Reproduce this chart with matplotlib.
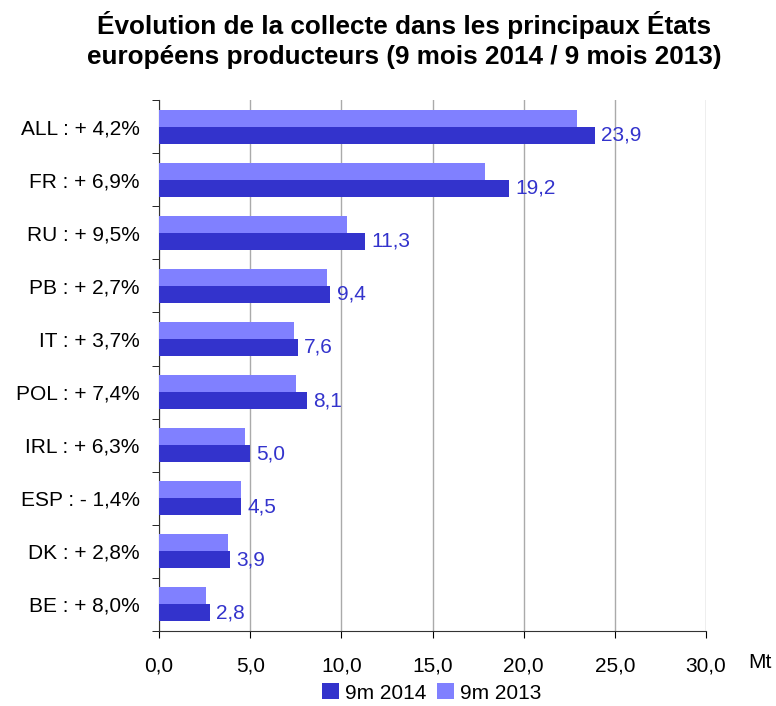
import matplotlib
matplotlib.use("Agg")
import matplotlib.pyplot as plt
import numpy as np

plt.rcParams['font.family'] = ['Liberation Sans', 'DejaVu Sans']

labels = ["ALL : + 4,2%", "FR : + 6,9%", "RU : + 9,5%", "PB : + 2,7%", "IT : + 3,7%",
          "POL : + 7,4%", "IRL : + 6,3%", "ESP : - 1,4%", "DK : + 2,8%", "BE : + 8,0%"]
v2014 = [23.9, 19.2, 11.3, 9.4, 7.6, 8.1, 5.0, 4.5, 3.9, 2.8]
v2013 = [22.9, 17.9, 10.3, 9.2, 7.4, 7.5, 4.7, 4.5, 3.8, 2.6]
xticks = [0, 5, 10, 15, 20, 25, 30]
xticklabels = ["0,0", "5,0", "10,0", "15,0", "20,0", "25,0", "30,0"]

dark = "#3333CC"
light = "#8080FF"

fig = plt.figure(figsize=(7.76, 7.06), dpi=100)
ax = fig.add_axes([159/776, 1 - 631/706, (706-159)/776, (631-100)/706])

n = len(labels)
y = np.arange(n)
h = 0.32
ax.barh(y - h/2, v2013, height=h, color=light, label="9m 2013", zorder=3)
ax.barh(y + h/2, v2014, height=h, color=dark, label="9m 2014", zorder=3)

for yi, v in zip(y, v2014):
    ax.text(v + 0.35, yi + h/2, f"{v:.1f}".replace(".", ","), va="center", ha="left",
            fontsize=15, color=dark)

ax.set_ylim(n - 0.5, -0.5)
ax.set_xlim(0, 30)
ax.set_yticks(y)
ax.set_yticklabels(labels, fontsize=15)
ax.set_yticks(np.arange(-0.5, n, 1), minor=True)
ax.tick_params(axis='y', which='major', length=0, pad=14)
ax.tick_params(axis='y', which='minor', length=5, direction='out')
ax.set_xticks(xticks)
ax.set_xticklabels(xticklabels, fontsize=15)
ax.tick_params(axis='x', length=5, direction='out', pad=13)
ax.grid(axis='x', color="#AAAAAA", linewidth=1, zorder=0)
for s in ['top', 'right']:
    ax.spines[s].set_visible(False)
for s in ['left', 'bottom']:
    ax.spines[s].set_color("#333333")

fig.text(760/776, 1 - 662/706, "Mt", fontsize=15, ha="center", va="center")

fig.text(404/776, 1 - 40/706,
         "Évolution de la collecte dans les principaux États\neuropéens producteurs (9 mois 2014 / 9 mois 2013)",
         fontsize=18.8, fontweight="bold", ha="center", va="center", linespacing=1.35)

handles, labs = ax.get_legend_handles_labels()
fig.legend(handles[::-1], labs[::-1], loc="center", bbox_to_anchor=(432/776, 1 - 693/706),
           ncol=2, frameon=False, fontsize=15, handlelength=0.8, handleheight=0.8,
           handletextpad=0.3, columnspacing=0.5)

fig.savefig("out.png", dpi=100)
